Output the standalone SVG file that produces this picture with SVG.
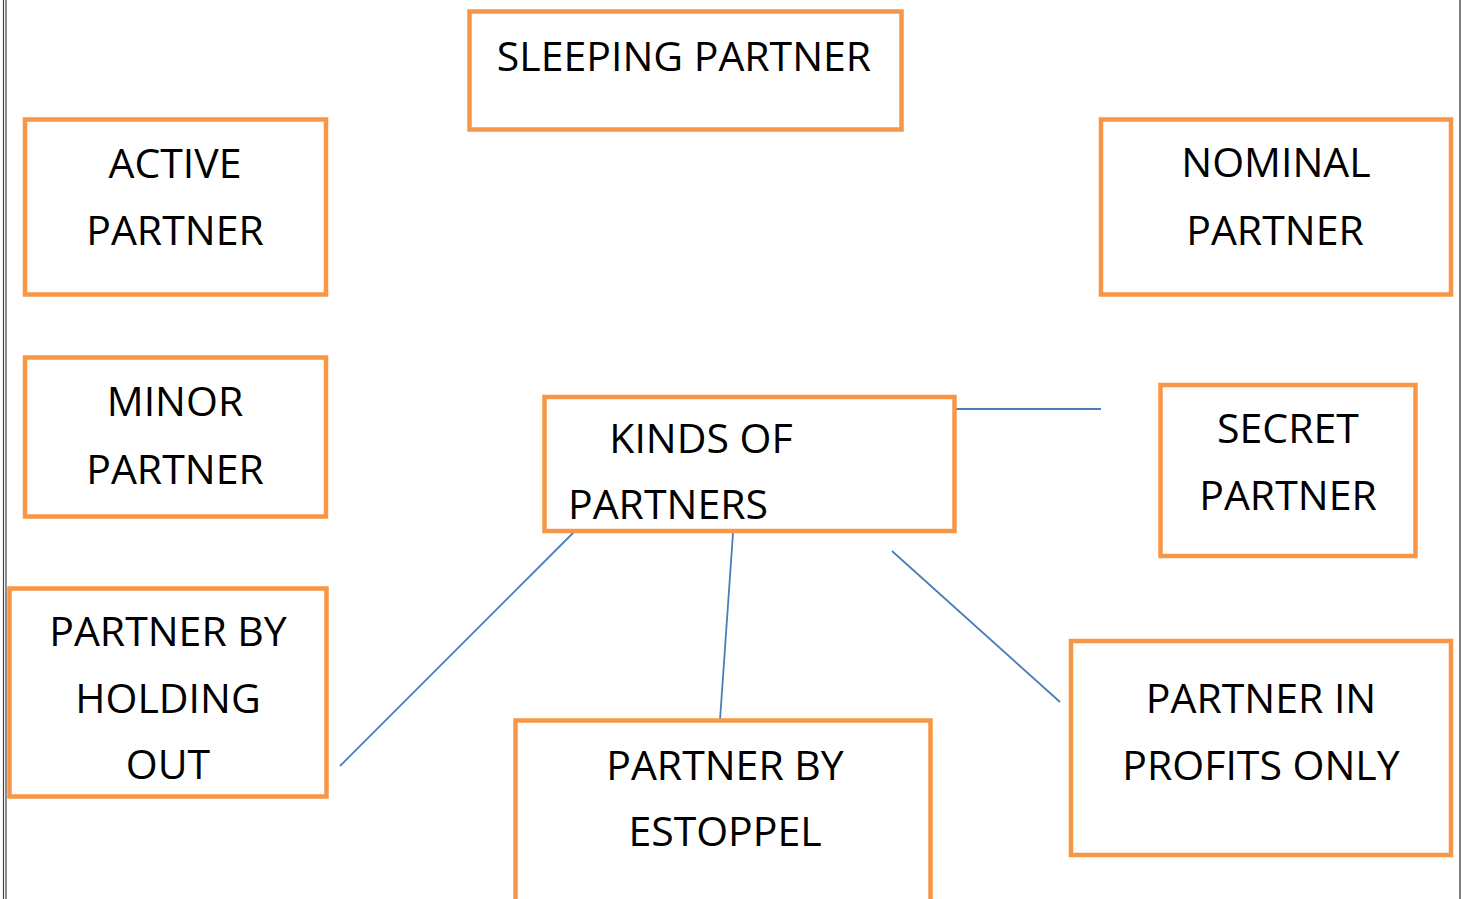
<svg xmlns="http://www.w3.org/2000/svg" width="1462" height="899" viewBox="0 0 1462 899">
<style>
.box{fill:#fff;stroke:#F79646;stroke-width:4.5}
.t{font-family:"Open Sans","Liberation Sans",sans-serif;font-size:41px;fill:#000;text-anchor:middle}
.c{stroke:#4A7EBB;stroke-width:1.8;fill:none}
</style>
<rect width="1462" height="899" fill="#fff"/>
<g id="page-border" stroke="#444" stroke-width="1.2">
<line x1="3.5" y1="0" x2="3.5" y2="899"/>
<line x1="6" y1="0" x2="6" y2="899"/>
<line x1="1460" y1="0" x2="1460" y2="899" stroke="#555" stroke-width="1.5"/>
</g>
<g id="connectors">
<line class="c" x1="956" y1="409" x2="1101" y2="409"/>
<line class="c" x1="578" y1="528" x2="340" y2="766"/>
<line class="c" x1="733" y1="533" x2="720" y2="720"/>
<line class="c" x1="892" y1="551" x2="1060" y2="702"/>
</g>
<g id="sleeping">
<rect class="box" x="469.5" y="11.5" width="432" height="118"/>
<text class="t" x="684" y="71">SLEEPING PARTNER</text>
</g>
<g id="active">
<rect class="box" x="25" y="119.5" width="301" height="175"/>
<text class="t" x="175" y="178">ACTIVE</text>
<text class="t" x="175" y="245">PARTNER</text>
</g>
<g id="nominal">
<rect class="box" x="1101" y="119.5" width="350" height="175"/>
<text class="t" x="1276" y="177">NOMINAL</text>
<text class="t" x="1275" y="245">PARTNER</text>
</g>
<g id="minor">
<rect class="box" x="25" y="357.5" width="301" height="159"/>
<text class="t" x="175" y="416">MINOR</text>
<text class="t" x="175" y="484">PARTNER</text>
</g>
<g id="kinds">
<rect class="box" x="544.5" y="397" width="410" height="134"/>
<text class="t" x="701" y="453">KINDS OF</text>
<text class="t" x="668" y="519">PARTNERS</text>
</g>
<g id="secret">
<rect class="box" x="1160.5" y="385" width="255" height="171"/>
<text class="t" x="1288" y="443">SECRET</text>
<text class="t" x="1288" y="510">PARTNER</text>
</g>
<g id="holding">
<rect class="box" x="9.5" y="588.5" width="317" height="208"/>
<text class="t" x="168" y="646">PARTNER BY</text>
<text class="t" x="168" y="713">HOLDING</text>
<text class="t" x="168" y="779">OUT</text>
</g>
<g id="estoppel">
<rect class="box" x="515.5" y="720.5" width="415" height="190"/>
<text class="t" x="725" y="780">PARTNER BY</text>
<text class="t" x="725" y="846">ESTOPPEL</text>
</g>
<g id="profits">
<rect class="box" x="1071" y="641" width="380" height="214"/>
<text class="t" x="1261" y="713">PARTNER IN</text>
<text class="t" x="1261" y="780">PROFITS ONLY</text>
</g>
</svg>
